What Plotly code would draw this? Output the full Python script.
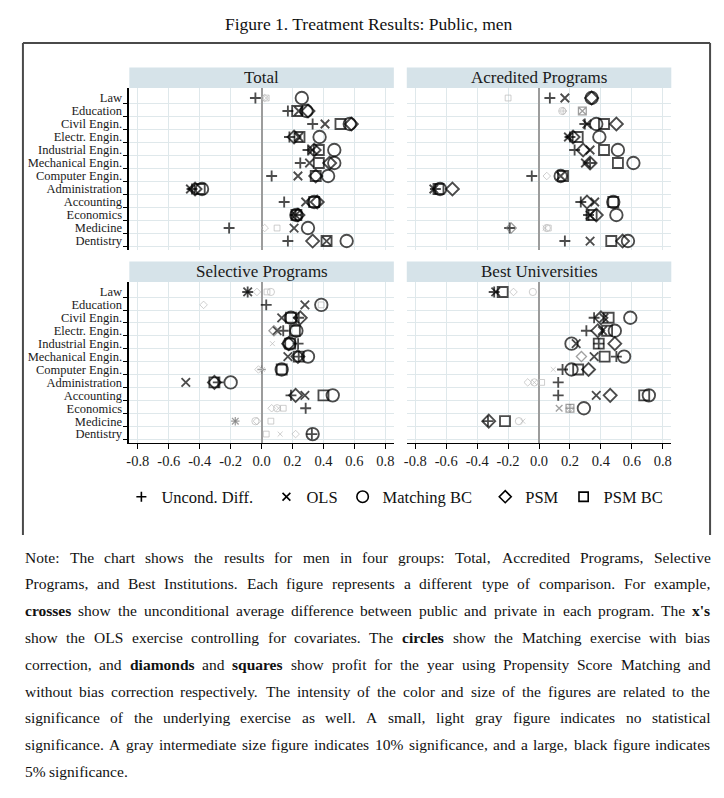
import plotly.graph_objects as go

# ---------------- data ----------------
categories = ["Law", "Education", "Civil Engin.", "Electr. Engin.", "Industrial Engin.",
              "Mechanical Engin.", "Computer Engin.", "Administration", "Accounting",
              "Economics", "Medicine", "Dentistry"]
series_names = ["Uncond. Diff.", "OLS", "Matching BC", "PSM", "PSM BC"]
panel_titles = ["Total", "Acredited Programs", "Selective Programs", "Best Universities"]
x_tick_vals = [-0.8, -0.6, -0.4, -0.2, 0.0, 0.2, 0.4, 0.6, 0.8]
x_tick_text = ["-0.8", "-0.6", "-0.4", "-0.2", "0.0", "0.2", "0.4", "0.6", "0.8"]

# significance: 2 = 5% (large black), 1 = 10% (medium gray), 0 = not significant (small light gray)
total_values = {
    "Uncond. Diff.": [-0.04, 0.17, 0.33, 0.18, 0.30, 0.25, 0.065, -0.45, 0.146, 0.22, -0.21, 0.17],
    "OLS":           [0.03, 0.24, 0.41, 0.24, 0.33, 0.31, 0.235, -0.46, 0.285, 0.22, 0.21, 0.42],
    "Matching BC":   [0.26, 0.29, 0.57, 0.375, 0.47, 0.47, 0.43, -0.385, 0.34, 0.225, 0.30, 0.55],
    "PSM":           [0.02, 0.30, 0.58, 0.21, 0.34, 0.44, 0.35, -0.43, 0.36, 0.235, 0.02, 0.33],
    "PSM BC":        [0.03, 0.23, 0.51, 0.245, 0.37, 0.37, 0.35, -0.40, 0.34, 0.225, 0.10, 0.42],
}
total_sig = {
    "Uncond. Diff.": [2, 2, 2, 2, 2, 2, 2, 2, 2, 2, 2, 2],
    "OLS":           [0, 2, 2, 2, 2, 2, 2, 2, 2, 2, 2, 2],
    "Matching BC":   [2, 2, 2, 2, 2, 2, 2, 2, 2, 2, 2, 2],
    "PSM":           [0, 2, 2, 2, 2, 2, 2, 2, 2, 2, 0, 2],
    "PSM BC":        [0, 2, 2, 2, 2, 2, 2, 2, 2, 2, 0, 2],
}
accredited_values = {
    "Uncond. Diff.": [0.07, 0.156, 0.296, 0.20, 0.23, 0.33, -0.047, -0.67, 0.27, 0.32, -0.19, 0.167],
    "OLS":           [0.167, 0.28, 0.31, 0.19, 0.33, 0.30, 0.14, -0.68, 0.36, 0.33, 0.04, 0.33],
    "Matching BC":   [0.34, 0.15, 0.37, 0.39, 0.51, 0.61, 0.14, -0.64, 0.48, 0.50, 0.05, 0.575],
    "PSM":           [0.34, 0.156, 0.50, 0.22, 0.285, 0.33, 0.05, -0.56, 0.31, 0.37, -0.18, 0.54],
    "PSM BC":        [-0.20, 0.28, 0.42, 0.25, 0.42, 0.51, 0.155, -0.65, 0.48, 0.34, 0.06, 0.467],
}
accredited_sig = {
    "Uncond. Diff.": [2, 0, 2, 2, 2, 2, 2, 2, 2, 2, 2, 2],
    "OLS":           [2, 1, 2, 2, 2, 2, 2, 2, 2, 2, 0, 2],
    "Matching BC":   [2, 0, 2, 2, 2, 2, 2, 2, 2, 2, 0, 2],
    "PSM":           [2, 0, 2, 2, 2, 2, 0, 2, 2, 2, 1, 2],
    "PSM BC":        [0, 1, 2, 2, 2, 2, 2, 2, 2, 2, 0, 2],
}
selective_values = {
    "Uncond. Diff.": [-0.09, 0.03, 0.24, 0.14, 0.236, 0.24, 0.0, -0.28, 0.19, 0.285, -0.17, 0.325],
    "OLS":           [-0.09, 0.28, 0.13, 0.10, 0.07, 0.17, 0.005, -0.49, 0.28, 0.11, -0.17, 0.12],
    "Matching BC":   [0.06, 0.386, 0.19, 0.225, 0.18, 0.30, 0.13, -0.20, 0.46, 0.10, -0.04, 0.33],
    "PSM":           [-0.03, -0.375, 0.25, 0.08, 0.175, 0.235, -0.02, -0.305, 0.22, 0.065, -0.03, 0.22],
    "PSM BC":        [0.035, 0.385, 0.19, 0.215, 0.185, 0.24, 0.13, -0.305, 0.40, 0.14, 0.06, 0.03],
}
selective_sig = {
    "Uncond. Diff.": [2, 2, 2, 2, 2, 2, 1, 2, 2, 2, 1, 2],
    "OLS":           [2, 2, 2, 2, 0, 2, 0, 2, 2, 0, 1, 0],
    "Matching BC":   [0, 2, 2, 2, 2, 2, 2, 2, 2, 0, 0, 2],
    "PSM":           [0, 0, 2, 1, 2, 2, 0, 2, 2, 0, 0, 0],
    "PSM BC":        [0, 0, 2, 2, 2, 2, 2, 2, 2, 0, 0, 0],
}
best_values = {
    "Uncond. Diff.": [-0.29, None, 0.356, 0.306, 0.386, 0.50, 0.152, 0.124, 0.124, 0.20, -0.33, None],
    "OLS":           [-0.28, None, 0.42, 0.41, 0.24, 0.356, 0.092, -0.03, 0.37, 0.13, -0.105, None],
    "Matching BC":   [-0.04, None, 0.59, 0.49, 0.21, 0.55, 0.21, -0.03, 0.71, 0.29, -0.13, None],
    "PSM":           [-0.165, None, 0.40, 0.38, 0.49, 0.274, 0.32, -0.073, 0.46, 0.20, -0.325, None],
    "PSM BC":        [-0.235, None, 0.45, 0.44, 0.386, 0.424, 0.253, 0.017, 0.68, 0.20, -0.22, None],
}
best_sig = {
    "Uncond. Diff.": [2, 0, 2, 2, 2, 2, 2, 2, 2, 1, 2, 0],
    "OLS":           [2, 0, 2, 2, 2, 2, 0, 0, 2, 1, 0, 0],
    "Matching BC":   [0, 0, 2, 2, 2, 2, 2, 0, 2, 2, 0, 0],
    "PSM":           [0, 0, 2, 2, 2, 1, 2, 0, 2, 0, 2, 0],
    "PSM BC":        [2, 0, 2, 2, 2, 2, 2, 0, 2, 1, 2, 0],
}

figure_title = "Figure 1. Treatment Results: Public, men"
note_lines = [
    "Note: The chart shows the results for men in four groups: Total, Accredited Programs, Selective",
    "Programs, and Best Institutions. Each figure represents a different type of comparison. For example,",
    "**crosses** show the unconditional average difference between public and private in each program. The **x's**",
    "show the OLS exercise controlling for covariates. The **circles** show the Matching exercise with bias",
    "correction, and **diamonds** and **squares** show profit for the year using Propensity Score Matching and",
    "without bias correction respectively. The intensity of the color and size of the figures are related to the",
    "significance of the underlying exercise as well. A small, light gray figure indicates no statistical",
    "significance. A gray intermediate size figure indicates 10% significance, and a large, black figure indicates",
    "5% significance.",
]

# ---------------- style ----------------
OFF = 8                      # browser default body margin
W, H = 724 - OFF, 798 - OFF  # figure size so the page fills the 724x798 window
SERIF = "Liberation Serif"
GRID = "#dfe8eb"
STRIP = "#d6e3e9"
SYMBOL = {"Uncond. Diff.": "cross-thin-open", "OLS": "x-thin-open", "Matching BC": "circle-open",
          "PSM": "diamond-open", "PSM BC": "square-open"}
BASE_SIZE = {"Uncond. Diff.": 7.8, "OLS": 8.5, "Matching BC": 12.5, "PSM": 10, "PSM BC": 10}
SIG_SCALE = {2: 1.0, 1: 0.78, 0: 0.58}
SIG_COLOR = {2: "#000000", 1: "#777777", 0: "#b9b9b9"}
SIG_LW = {2: 1.85, 1: 1.3, 0: 1.0}

def px_x(p):
    return (p - OFF) / W

def px_y(p):
    return 1 - (p - OFF) / H

# panel pixel boxes in window coords (x0, x1, y0, y1)
panels = [
    (total_values, total_sig, (127, 393, 88, 250)),
    (accredited_values, accredited_sig, (406, 672, 88, 250)),
    (selective_values, selective_sig, (127, 393, 282, 443)),
    (best_values, best_sig, (406, 672, 282, 443)),
]

fig = go.Figure()
layout_axes = {}
for k, (vals, sigs, (x0, x1, y0, y1)) in enumerate(panels):
    n = k + 1
    xa = "xaxis" if n == 1 else f"xaxis{n}"
    ya = "yaxis" if n == 1 else f"yaxis{n}"
    xr = "x" if n == 1 else f"x{n}"
    yr = "y" if n == 1 else f"y{n}"
    left = (k % 2 == 0)
    bottom = (k >= 2)
    xcfg = dict(domain=[px_x(x0), px_x(x1)], anchor=yr, range=[-0.855, 0.855],
                tickmode="array", tickvals=x_tick_vals, ticktext=x_tick_text,
                showgrid=True, gridcolor=GRID, gridwidth=1,
                zeroline=True, zerolinecolor="#9c9c9c", zerolinewidth=2, fixedrange=True)
    if bottom:
        xcfg.update(showline=True, linecolor="black", linewidth=1, ticks="outside", ticklen=5,
                    tickcolor="black", tickwidth=1, showticklabels=True,
                    tickfont=dict(family=SERIF, size=14.5, color="#1a1a1a"))
    else:
        xcfg.update(showline=False, ticks="", showticklabels=False)
    ycfg = dict(domain=[px_y(y1), px_y(y0)], anchor=xr, range=[11.69, -0.77],
                tickmode="array", tickvals=list(range(len(categories))),
                ticktext=categories, showticklabels=left, ticks="", showgrid=False,
                zeroline=False, fixedrange=True,
                minor=dict(tickmode="array", tickvals=[i + 0.4 for i in range(len(categories))],
                           ticks="outside" if left else "", ticklen=5, tickcolor="black",
                           tickwidth=1, showgrid=True, gridcolor=GRID, gridwidth=1))
    if left:
        ycfg.update(showline=True, linecolor="black", linewidth=1.5,
                    tickfont=dict(family=SERIF, size=12.5, color="#1a1a1a"),
                    ticklabelstandoff=3)
    else:
        ycfg.update(showline=False)
    layout_axes[xa] = xcfg
    layout_axes[ya] = ycfg

    for name in series_names:
        xs, ys, cols, sizes, lws = [], [], [], [], []
        for i, v in enumerate(vals[name]):
            if v is None:
                continue
            s = sigs[name][i]
            xs.append(v)
            ys.append(i)
            cols.append(SIG_COLOR[s])
            sizes.append(BASE_SIZE[name] * SIG_SCALE[s])
            lws.append(SIG_LW[s])
        fig.add_trace(go.Scatter(
            x=xs, y=ys, xaxis=xr, yaxis=yr, mode="markers", name=name, showlegend=False,
            marker=dict(symbol=SYMBOL[name], size=sizes, color=cols,
                        line=dict(color=cols, width=lws)),
            hoverinfo="skip"))

# legend entries
legend_labels = {"Uncond. Diff.": "Uncond. Diff.\u00a0\u00a0", "OLS": "OLS",
                 "Matching BC": "Matching BC\u00a0\u00a0", "PSM": "PSM", "PSM BC": "PSM BC"}
for name in series_names:
    fig.add_trace(go.Scatter(
        x=[None], y=[None], mode="markers", name=legend_labels[name], showlegend=True,
        marker=dict(symbol=SYMBOL[name], size=BASE_SIZE[name] * 0.92, color="black",
                    line=dict(color="black", width=1.6))))

shapes = []
annotations = []
# frame around chart
FR = dict(type="line", xref="paper", yref="paper", line=dict(color="#4a4a4a", width=2))
shapes.append(dict(FR, x0=px_x(20), x1=px_x(711), y0=px_y(43), y1=px_y(43)))
shapes.append(dict(FR, x0=px_x(20), x1=px_x(20), y0=px_y(43), y1=px_y(535)))
shapes.append(dict(FR, x0=px_x(711), x1=px_x(711), y0=px_y(43), y1=px_y(535)))

# strips
for k, (_, _, (x0, x1, y0, y1)) in enumerate(panels):
    sy0 = y0 - 20.5
    shapes.append(dict(type="rect", xref="paper", yref="paper", x0=px_x(x0), x1=px_x(x1),
                       y0=px_y(y0), y1=px_y(sy0), fillcolor=STRIP, line=dict(width=0),
                       layer="below"))
    annotations.append(dict(xref="paper", yref="paper", x=px_x((x0 + x1) / 2), y=px_y((y0 + sy0) / 2),
                            text=panel_titles[k], showarrow=False, xanchor="center", yanchor="middle",
                            font=dict(family=SERIF, size=17, color="#1a1a1a")))

annotations.append(dict(xref="paper", yref="paper", x=px_x(368), y=px_y(24), text=figure_title,
                        showarrow=False, xanchor="center", yanchor="middle",
                        font=dict(family=SERIF, size=17.5, color="#111111")))

# ---- justified note text (Times / Liberation Serif metrics) ----
REG = dict(zip("abcdefghijklmnopqrstuvwxyz",
               [444, 500, 444, 500, 444, 333, 500, 500, 278, 278, 500, 278, 778, 500, 500, 500,
                500, 333, 389, 278, 500, 500, 722, 500, 500, 444]))
REG.update(dict(zip("ABCDEFGHIJKLMNOPQRSTUVWXYZ",
                    [722, 667, 667, 722, 611, 556, 722, 722, 333, 389, 722, 611, 889, 722, 722, 556,
                     722, 667, 556, 611, 722, 722, 944, 722, 722, 611])))
REG.update({d: 500 for d in "0123456789"})
REG.update({".": 250, ",": 250, ":": 278, ";": 278, "'": 180, "%": 833, "-": 333, "(": 333, ")": 333})
BOLD = dict(zip("abcdefghijklmnopqrstuvwxyz",
                [500, 556, 444, 556, 444, 333, 500, 556, 278, 333, 556, 278, 833, 556, 500, 556,
                 556, 444, 389, 333, 556, 500, 722, 500, 500, 444]))
BOLD.update({"'": 278, ".": 250, ",": 250})

def word_w(word, bold):
    tab = BOLD if bold else REG
    return sum(tab.get(c, REG.get(c, 500)) for c in word) / 1000.0

def parse(line):
    out = []
    for w in line.split(" "):
        if w.startswith("**") and w.endswith("**"):
            out.append((w[2:-2], True))
        else:
            out.append((w, False))
    return out

NOTE_X0, NOTE_X1 = 22, 711
NOTE_W = NOTE_X1 - NOTE_X0
parsed = [parse(l) for l in note_lines]
nat = [sum(word_w(w, b) for w, b in p) + 0.25 * (len(p) - 1) for p in parsed[:-1]]
note_size = min(15.5, min(NOTE_W / v for v in nat) * 0.995)

for li, p in enumerate(parsed):
    ypix = 557 + li * 26.8
    widths = [word_w(w, b) * note_size for w, b in p]
    if li < len(parsed) - 1 and len(p) > 1:
        gap = (NOTE_W - sum(widths)) / (len(p) - 1)
    else:
        gap = 0.25 * note_size
    x = NOTE_X0
    for (w, b), ww in zip(p, widths):
        annotations.append(dict(xref="paper", yref="paper", x=px_x(x - 1), y=px_y(ypix),
                                text=f"<b>{w}</b>" if b else w, showarrow=False,
                                xanchor="left", yanchor="middle", borderpad=0,
                                font=dict(family=SERIF, size=note_size, color="#111111")))
        x += ww + gap

fig.update_layout(
    width=W, height=H, margin=dict(l=0, r=0, t=0, b=0),
    plot_bgcolor="white", paper_bgcolor="white",
    font=dict(family=SERIF, color="#111111"),
    showlegend=True,
    legend=dict(orientation="h", x=px_x(119), xanchor="left", y=px_y(497), yanchor="middle",
                font=dict(family=SERIF, size=16.5, color="#111111"), bgcolor="rgba(0,0,0,0)",
                itemsizing="trace"),
    shapes=shapes, annotations=annotations,
    **layout_axes,
)

fig.write_html("out.html")
